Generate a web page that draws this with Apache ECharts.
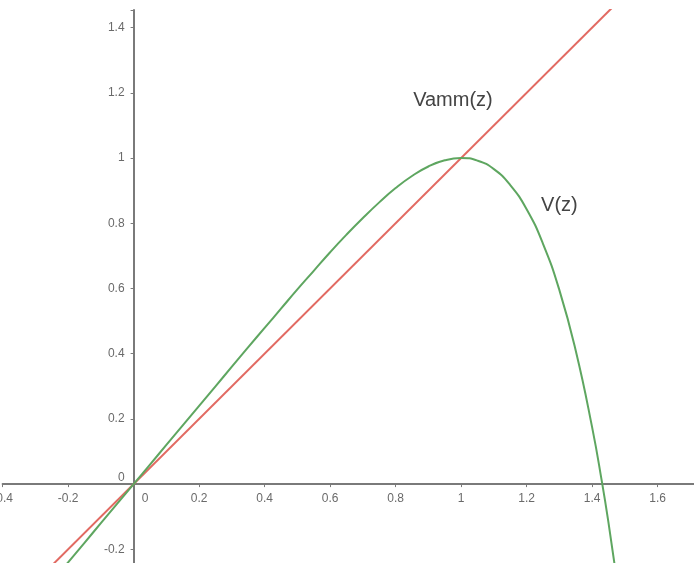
<!DOCTYPE html>
<html>
<head>
<meta charset="utf-8">
<script src="https://cdn.jsdelivr.net/npm/echarts@6/dist/echarts.min.js"></script>
<style>
  html, body { margin: 0; padding: 0; background: #fff; }
  #chart { width: 694px; height: 563px; }
</style>
</head>
<body>
<div id="chart"></div>
<script>
// V(z)
const zValues = [-0.25, -0.2, -0.15, -0.1, -0.05, 0, 0.05, 0.1, 0.15, 0.2, 0.25, 0.3, 0.35, 0.4, 0.45, 0.5,
  0.55, 0.6, 0.65, 0.7, 0.75, 0.8, 0.85, 0.9, 0.95, 1, 1.05, 1.1, 1.15, 1.2, 1.25, 1.3, 1.35, 1.4,
  1.43, 1.45, 1.48];
const vValues = [-0.3, -0.24, -0.18, -0.12, -0.06, 0, 0.06, 0.12, 0.18, 0.24, 0.3, 0.36, 0.42, 0.479, 0.538, 0.597,
  0.654, 0.711, 0.765, 0.816, 0.864, 0.908, 0.945, 0.974, 0.993, 1, 0.992, 0.966, 0.917, 0.843, 0.737, 0.595, 0.409, 0.174,
  0.006, -0.119, -0.326];
// Vamm(z), the red straight line
const vammZ = [-0.3, 1.6];
const vammValues = [-0.3, 1.6];

const axisColor = '#7a7a7a';
const labelColor = '#6a6a6a';
const labelFont = 'Liberation Sans, Arial, sans-serif';

function tickLabel(v) {
  const k = Math.round(v / 0.2);
  if (Math.abs(v - k * 0.2) > 1e-6) return '';
  if (k === 0) return '{zero|0}';
  return String(+(k * 0.2).toFixed(1));
}

const chart = echarts.init(document.getElementById('chart'));
chart.setOption({
  animation: false,
  backgroundColor: '#fff',
  grid: { left: 2.6, right: 0, top: 10, bottom: 0, outerBoundsMode: 'none' },
  xAxis: {
    type: 'value',
    min: -0.4,
    max: 1.711,
    interval: 0.2,
    position: 'bottom',
    offset: -78.9, // puts the axis at z = 0 on the V scale
    axisLine: { onZero: false, lineStyle: { color: axisColor, width: 2 } },
    axisTick: { show: true, length: 3, lineStyle: { color: axisColor } },
    splitLine: { show: false },
    axisLabel: {
      formatter: tickLabel,
      color: labelColor, fontSize: 12, fontFamily: labelFont, margin: 9,
      rich: { zero: { padding: [0, 0, 0, 23], color: labelColor, fontSize: 12, fontFamily: labelFont } }
    }
  },
  yAxis: {
    type: 'value',
    min: -0.242,
    max: 1.454,
    splitNumber: 8,
    position: 'left',
    offset: -131, // puts the axis at z = 0
    axisLine: { onZero: false, lineStyle: { color: axisColor, width: 2 } },
    axisTick: { show: true, length: 3, lineStyle: { color: axisColor } },
    splitLine: { show: false },
    axisLabel: {
      formatter: tickLabel,
      color: labelColor, fontSize: 12, fontFamily: labelFont, margin: 9,
      rich: { zero: { padding: [0, 0, 12, 0], color: labelColor, fontSize: 12, fontFamily: labelFont } }
    }
  },
  series: [
    {
      name: 'Vamm(z)',
      type: 'line',
      data: vammZ.map((z, i) => [z, vammValues[i]]),
      symbol: 'none',
      lineStyle: { color: '#e26a62', width: 2 },
      markPoint: {
        symbol: 'circle', symbolSize: 1,
        itemStyle: { color: 'rgba(0,0,0,0)' },
        label: { show: true, position: 'inside', formatter: 'Vamm(z)', fontSize: 20, color: '#444', fontFamily: labelFont },
        data: [{ coord: [0.975, 1.177] }]
      }
    },
    {
      name: 'V(z)',
      type: 'line',
      data: zValues.map((z, i) => [z, vValues[i]]),
      symbol: 'none',
      smooth: true,
      lineStyle: { color: '#5ea660', width: 2 },
      markPoint: {
        symbol: 'circle', symbolSize: 1,
        itemStyle: { color: 'rgba(0,0,0,0)' },
        label: { show: true, position: 'inside', formatter: 'V(z)', fontSize: 20, color: '#444', fontFamily: labelFont },
        data: [{ coord: [1.3, 0.853] }]
      }
    }
  ]
});
</script>
</body>
</html>
